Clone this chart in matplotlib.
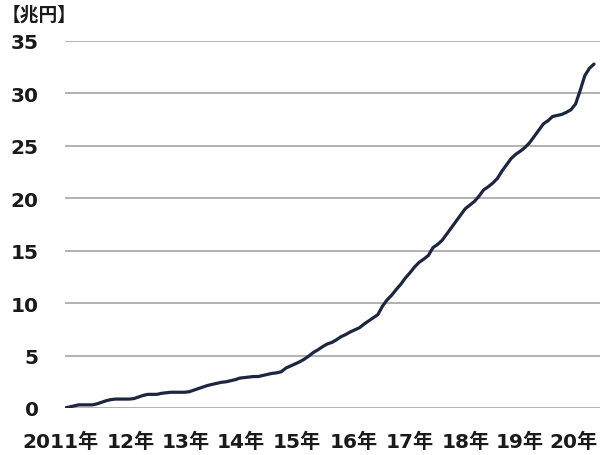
import matplotlib
matplotlib.use("Agg")
import matplotlib.pyplot as plt
import matplotlib.transforms as mtransforms

plt.rcParams['font.family'] = ['DejaVu Sans', 'Noto Sans CJK JP']

# Monthly values (兆円), April 2011 through November 2020
values = [
    0.0, 0.1, 0.2, 0.3, 0.3, 0.3, 0.3, 0.4, 0.55, 0.7, 0.8, 0.85,
    0.85, 0.85, 0.85, 0.9, 1.05, 1.2, 1.3, 1.3, 1.3, 1.4, 1.45, 1.5,
    1.5, 1.5, 1.5, 1.55, 1.7, 1.85, 2.0, 2.15, 2.25, 2.35, 2.45, 2.5,
    2.6, 2.7, 2.85, 2.9, 2.95, 3.0, 3.0, 3.1, 3.2, 3.3, 3.35, 3.45,
    3.8, 4.0, 4.2, 4.4, 4.65, 4.95, 5.3, 5.55, 5.85, 6.1, 6.25, 6.5,
    6.8, 7.0, 7.25, 7.45, 7.65, 8.0, 8.3, 8.6, 8.9, 9.7, 10.3, 10.75,
    11.3, 11.8, 12.4, 12.9, 13.45, 13.9, 14.2, 14.55, 15.3, 15.6, 16.0, 16.6,
    17.2, 17.8, 18.4, 19.0, 19.35, 19.7, 20.2, 20.8, 21.1, 21.45, 21.9, 22.6,
    23.2, 23.8, 24.2, 24.5, 24.85, 25.3, 25.9, 26.5, 27.1, 27.4, 27.8, 27.9,
    28.0, 28.2, 28.45, 29.0, 30.3, 31.7, 32.4, 32.8,
]
months = list(range(len(values)))

year_labels = ['2011年', '12年', '13年', '14年', '15年', '16年', '17年', '18年', '19年', '20年']
year_label_pos = [-0.9, 14.3, 26.3, 38.3, 50.3, 62.8, 75.0, 87.2, 98.9, 110.6]
y_ticks = [0, 5, 10, 15, 20, 25, 30, 35]

fig = plt.figure(figsize=(6.0, 4.56), dpi=100)
ax = fig.add_axes([0.1083, 0.1031, 0.8917, 0.8048])

ax.plot(months, values, color='#1c2640', lw=2.3, solid_capstyle='round', zorder=3)

ax.set_xlim(0, 116.3)
ax.set_ylim(0, 35)
ax.set_yticks(y_ticks)
ax.set_yticklabels([str(v) for v in y_ticks], fontsize=14.5, fontweight='bold', color='#1a1a1a')
ax.set_xticks([])
ax.tick_params(axis='y', length=0, pad=19)
ax.yaxis.grid(True, color='#ababab', lw=1.3)
ax.set_axisbelow(True)
for s in ax.spines.values():
    s.set_visible(False)

trans = mtransforms.blended_transform_factory(ax.transData, ax.transAxes)
for lab, xp in zip(year_labels, year_label_pos):
    ax.text(xp, -0.09, lab, transform=trans, ha='center', va='center',
            fontsize=14.5, fontweight='bold', color='#1a1a1a', clip_on=False)

fig.text(0.002, 0.966, '【兆円】', ha='left', va='center', fontsize=13.5,
         fontweight='bold', color='#1a1a1a', family=['Noto Sans CJK JP', 'DejaVu Sans'])

fig.savefig('out.png', dpi=100)
